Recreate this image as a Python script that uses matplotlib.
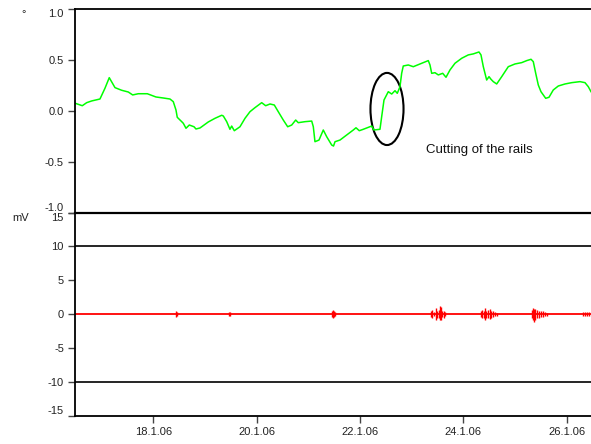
import numpy as np
import pandas as pd
import matplotlib
matplotlib.use("Agg")
import matplotlib.pyplot as plt
from matplotlib.patches import Ellipse

plt.rcParams['font.family'] = ['Liberation Sans', 'DejaVu Sans']

start = pd.Timestamp("2006-01-16")

# inclination of the rail (degrees), time in days since 16.1.06 00:00
tilt_days = [0.490, 0.626, 0.711, 0.808, 0.968, 1.065, 1.148, 1.259, 1.388, 1.516,
             1.601, 1.710, 1.884, 2.052, 2.194, 2.323, 2.387, 2.439, 2.464, 2.550,
             2.581, 2.633, 2.697, 2.788, 2.826, 2.904, 2.937, 3.064, 3.194, 3.324,
             3.355, 3.421, 3.484, 3.517, 3.568, 3.678, 3.775, 3.871, 3.968, 4.098,
             4.175, 4.259, 4.342, 4.419, 4.516, 4.601, 4.679, 4.756, 4.806, 4.936,
             5.066, 5.097, 5.129, 5.207, 5.290, 5.356, 5.453, 5.488, 5.517, 5.613,
             5.743, 5.871, 5.923, 5.987, 6.064, 6.227, 6.271, 6.387, 6.420, 6.465,
             6.548, 6.614, 6.678, 6.722, 6.774, 6.807, 6.838, 6.935, 7.032, 7.162,
             7.322, 7.355, 7.388, 7.452, 7.516, 7.601, 7.665, 7.742, 7.839, 7.969,
             8.096, 8.193, 8.303, 8.342, 8.387, 8.452, 8.497, 8.536, 8.580, 8.646,
             8.743, 8.870, 9.000, 9.130, 9.227, 9.310, 9.354, 9.401, 9.451, 9.503,
             9.548, 9.594, 9.658, 9.741, 9.838, 9.968, 10.098, 10.258, 10.355, 10.419,
             10.471]
tilt_deg = [0.076, 0.052, 0.082, 0.099, 0.118, 0.224, 0.328, 0.230, 0.204, 0.187,
            0.158, 0.170, 0.170, 0.138, 0.128, 0.118, 0.092, 0.010, -0.062, -0.105,
            -0.121, -0.170, -0.138, -0.155, -0.177, -0.167, -0.155, -0.108, -0.072, -0.042,
            -0.049, -0.105, -0.180, -0.148, -0.194, -0.155, -0.072, -0.007, 0.033, 0.082,
            0.052, 0.069, 0.059, -0.007, -0.089, -0.155, -0.138, -0.089, -0.115, -0.105,
            -0.099, -0.155, -0.302, -0.286, -0.187, -0.253, -0.335, -0.345, -0.302, -0.286,
            -0.236, -0.187, -0.165, -0.194, -0.180, -0.148, -0.187, -0.180, -0.056, 0.108,
            0.190, 0.167, 0.200, 0.174, 0.239, 0.371, 0.443, 0.453, 0.436, 0.463,
            0.496, 0.453, 0.371, 0.377, 0.355, 0.371, 0.332, 0.404, 0.470, 0.519,
            0.552, 0.562, 0.581, 0.552, 0.436, 0.305, 0.338, 0.312, 0.289, 0.266,
            0.338, 0.436, 0.463, 0.476, 0.496, 0.509, 0.486, 0.371, 0.256, 0.190,
            0.158, 0.125, 0.135, 0.207, 0.246, 0.266, 0.279, 0.289, 0.279, 0.239,
            0.190]

# sensor signal (mV): flat baseline plus bursts
signal_days = [0.485, 10.471]
signal_mv = [0.0, 0.0]
burst_days = [2.439, 2.459, 3.465, 3.484, 5.459, 5.478, 5.497, 5.517,
              7.374, 7.394, 7.433, 7.472, 7.491, 7.530, 7.549, 7.569, 7.588, 7.627, 7.646,
              8.342, 8.361, 8.400, 8.419, 8.439, 8.477, 8.516, 8.536, 8.574, 8.613, 8.652,
              9.329, 9.348, 9.368, 9.387, 9.426, 9.464, 9.503, 9.542, 9.581, 9.619,
              10.316, 10.355, 10.394, 10.432]
burst_hi = [0.4, 0.3, 0.3, 0.3, 0.4, 0.6, 0.4, 0.3,
            0.4, 0.6, 0.3, 0.9, 0.5, 0.6, 1.2, 1.0, 0.4, 0.5, 0.3,
            0.4, 0.6, 0.5, 0.9, 0.5, 0.6, 0.7, 0.5, 0.4, 0.3, 0.2,
            0.6, 0.9, 0.8, 0.7, 0.6, 0.5, 0.4, 0.4, 0.3, 0.2,
            0.3, 0.3, 0.3, 0.3]
burst_lo = [-0.4, -0.3, -0.3, -0.3, -0.4, -0.6, -0.4, -0.3,
            -0.4, -0.5, -0.3, -0.8, -0.5, -0.6, -0.9, -0.8, -0.4, -0.6, -0.3,
            -0.4, -0.5, -0.5, -0.8, -0.5, -0.6, -0.7, -0.5, -0.4, -0.3, -0.2,
            -0.5, -0.9, -1.2, -0.8, -0.6, -0.5, -0.4, -0.4, -0.3, -0.2,
            -0.3, -0.3, -0.3, -0.3]

x_tick_days = [2, 4, 6, 8, 10]
x_tick_labels = ["18.1.06", "20.1.06", "22.1.06", "24.1.06", "26.1.06"]
tilt_ticks = [-1.0, -0.5, 0.0, 0.5, 1.0]
tilt_labels = ["-1.0", "-0.5", "0.0", "0.5", "1.0"]
signal_ticks = [-15, -10, -5, 0, 5, 10, 15]

# cut of the rails
cut_day, cut_deg = 6.523, 0.02


def to_dates(days):
    return start + pd.to_timedelta(np.array(days), unit="D")


def style_axis(ax, ticks, labels):
    ax.set_yticks(ticks)
    ax.set_yticklabels(labels)
    ax.tick_params(axis='y', direction='out', length=5, width=1, color='#444444',
                   labelsize=8, pad=3, labelcolor='#222222')
    ax.spines['right'].set_visible(False)
    ax.patch.set_visible(False)  # so the panels don't hide each other's spines
    for s in ax.spines.values():
        s.set_linewidth(1.3)
    # keep the end labels inside the panel
    lbl = ax.get_yticklabels()
    lbl[0].set_va('bottom')
    lbl[-1].set_va('top')


fig = plt.figure(figsize=(5.91, 4.44), dpi=100)
ax1 = fig.add_axes([75 / 591, 1 - 212.6 / 444, 1 - 75 / 591, 203.2 / 444])
ax2 = fig.add_axes([75 / 591, 1 - 415.7 / 444, 1 - 75 / 591, 203.1 / 444])

xmin, xmax = to_dates([0.485, 10.471])

# upper: inclination
ax1.plot(to_dates(tilt_days), tilt_deg, color='#00ff00', lw=1.1)
ax1.set_ylim(-1.0, 1.0)
ax1.set_xlim(xmin, xmax)
style_axis(ax1, tilt_ticks, tilt_labels)
ax1.spines['bottom'].set_linewidth(1.6)
ax1.tick_params(axis='x', bottom=False, labelbottom=False)

cx = matplotlib.dates.date2num(to_dates([cut_day])[0])
ax1.add_patch(Ellipse((cx, cut_deg), width=0.64, height=0.71, fill=False,
                      edgecolor='black', lw=1.5))
ax1.text(matplotlib.dates.date2num(to_dates([7.278])[0]), -0.384, "Cutting of the rails",
         fontsize=9.5, va='center', ha='left', color='#111111')

# lower: signal
ax2.plot(to_dates(signal_days), signal_mv, color='#ff0000', lw=1.3)
ax2.vlines(to_dates(burst_days), burst_lo, burst_hi, color='#ff0000', lw=1.0)
ax2.axhline(10, color='black', lw=1.2)
ax2.axhline(-10, color='black', lw=1.2)
ax2.set_ylim(-15, 15)
ax2.set_xlim(xmin, xmax)
ax2.spines['top'].set_visible(False)
style_axis(ax2, signal_ticks, [str(t) for t in signal_ticks])
ax2.set_xticks(to_dates(x_tick_days))
ax2.set_xticklabels(x_tick_labels)
ax2.tick_params(axis='x', direction='out', length=5, width=1, color='#444444',
                labelsize=8, pad=3, labelcolor='#222222')

# units
fig.text(24 / 591, 1 - 14 / 444, "°", fontsize=8, ha='center', va='center', color='#222222')
fig.text(21 / 591, 1 - 218 / 444, "mV", fontsize=8, ha='center', va='center', color='#222222')

fig.savefig("out.png", dpi=100)
